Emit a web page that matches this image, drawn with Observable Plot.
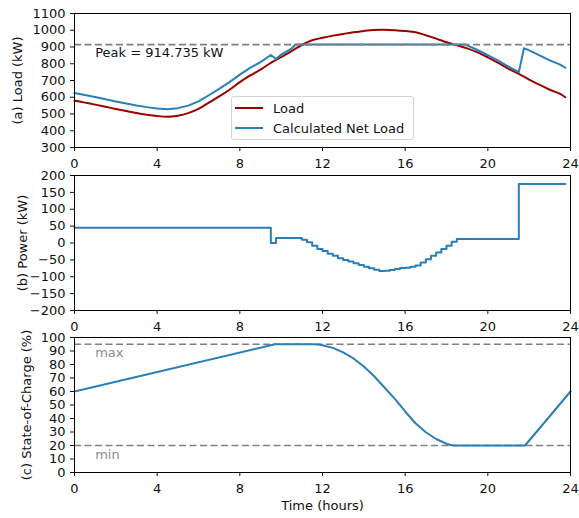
<!DOCTYPE html>
<html><head><meta charset="utf-8">
<script src="https://cdn.jsdelivr.net/npm/d3@7"></script>
<script src="https://cdn.jsdelivr.net/npm/@observablehq/plot@0.6"></script>
<style>
body{margin:0;background:#fff;font-family:"DejaVu Sans",sans-serif;}
#chart{position:relative;width:579px;height:518px;}
#chart svg{display:block;}
.legend{position:absolute;left:231px;top:96px;width:183px;height:44px;box-sizing:border-box;border:1px solid #d3d3d3;border-radius:3px;background:rgba(255,255,255,0.85);padding-top:1px;font-size:13px;color:#111;}
.legend .row{display:flex;align-items:center;height:20px;}
.legend .sw{width:28px;height:0;border-top:2px solid;margin-left:3px;margin-right:10px;}
</style></head><body><div id="chart"></div>
<script>
// ---- data ----
const xTicks = [0, 4, 8, 12, 16, 20, 24];
const seriesNames = ["Load", "Calculated Net Load"];
const seriesColors = ["#990000", "#2a7fb8"];

const loadHours = [0,0.5,1,1.5,2,2.5,3,3.5,4,4.5,5,5.5,6,6.5,7,7.5,8,8.5,9,9.5,10,10.5,11,11.5,12,12.5,13,13.5,14,14.5,15,15.5,16,16.5,17,17.5,18,18.5,19,19.5,20,20.5,21,21.5,22,22.5,23,23.5,23.75];
const loadKW = [580,568,556,543,530,518,506,496,488,484,490,505,530,568,605,645,690,730,765,805,840,875,912,940,955,968,978,988,996,1002,1003,1000,995,988,970,950,928,910,892,868,838,805,770,740,705,675,645,620,600];

const netHours = [0,0.5,1,1.5,2,2.5,3,3.5,4,4.5,5,5.5,6,6.5,7,7.5,8,8.5,9,9.5,9.75,10,10.5,10.7,18.9,19,19.5,20,20.5,21,21.5,21.75,22,22.5,23,23.5,23.75];
const netKW = [625,613,601,588,575,563,551,541,533,529,535,550,575,612,650,690,735,775,810,852,828,855,890,914.7,914.7,910,882,851,818,783,750,893,880,850,820,795,776];

const powerHours = [0,9.5,9.75,11,11.25,11.5,11.75,12,12.25,12.5,12.75,13,13.25,13.5,13.75,14,14.25,14.5,14.75,15,15.25,15.5,15.75,16,16.25,16.5,16.75,17,17.25,17.5,17.75,18,18.25,18.5,21.5,23.75];
const powerKW = [45,0,15,10,2,-8,-18,-24,-32,-38,-45,-50,-55,-60,-65,-70,-75,-79,-83,-82,-80,-77,-74,-73,-70,-67,-58,-48,-38,-28,-18,-8,4,12,175,175];

const socHours = [0,9.7,11.55,11.8,12,12.5,13,13.5,14,14.5,15,15.5,16,16.5,17,17.5,18,18.2,18.4,21.8,24];
const socPct = [60,95,95,94.8,94.2,92.3,89,84.5,78.5,71.3,63,54.5,45.2,36.5,29.8,24.8,21.3,20.4,20,20,60];

const peakKW = 914.735;
const peakLabel = "Peak = 914.735 kW";
const socMax = 95, socMin = 20;
const limitLabels = ["max", "min"];
const annotHour = 1;

const yTicksA = [300,400,500,600,700,800,900,1000,1100];
const yTicksB = [-200,-150,-100,-50,0,50,100,150,200];
const yTicksC = [0,10,20,30,40,50,60,70,80,90,100];
const yLabels = ["(a) Load (kW)", "(b) Power (kW)", "(c) State-of-Charge (%)"];
const xLabel = "Time (hours)";

// ---- tables ----
const loadData = loadHours.map((h, i) => ({h, v: loadKW[i]}));
const netData = netHours.map((h, i) => ({h, v: netKW[i]}));
const powerData = powerHours.map((h, i) => ({h, v: powerKW[i]}));
const socData = socHours.map((h, i) => ({h, v: socPct[i]}));

const style = {fontFamily: "'DejaVu Sans', sans-serif", fontSize: "13px", color: "#111", background: "transparent", overflow: "visible"};
const dash = {stroke: "#7f7f7f", strokeDasharray: "7,3.5", strokeWidth: 1.7};
const fmt = d3.format("d");

function panel({height, marginTop, marginBottom, yDomain, yTicks, yLabel, labelDx, marks}) {
  return Plot.plot({
    width: 579, height, marginLeft: 74, marginRight: 9, marginTop, marginBottom,
    style,
    x: {domain: [0, 24]},
    y: {domain: yDomain},
    marks: [
      ...marks,
      Plot.frame({stroke: "#000", strokeWidth: 1}),
      Plot.axisX({ticks: xTicks, tickSize: 4, tickPadding: 7, label: null, tickFormat: fmt}),
      Plot.axisY({ticks: yTicks, tickSize: 4, tickPadding: 5, label: null, tickFormat: fmt}),
      Plot.text([yLabel], {frameAnchor: "left", dx: labelDx, rotate: -90, textAnchor: "middle", lineAnchor: "middle", text: d => d, fill: "#111"})
    ]
  });
}

const chart = document.getElementById("chart");

chart.append(panel({
  height: 168, marginTop: 13, marginBottom: 21, yDomain: [300, 1100], yTicks: yTicksA,
  yLabel: yLabels[0], labelDx: -57,
  marks: [
    Plot.line(loadData, {x: "h", y: "v", stroke: seriesColors[0], strokeWidth: 2, curve: "catmull-rom"}),
    Plot.line(netData, {x: "h", y: "v", stroke: seriesColors[1], strokeWidth: 2}),
    Plot.ruleY([peakKW], dash),
    Plot.text([peakLabel], {x: () => annotHour, y: () => peakKW, dy: 8, textAnchor: "start", lineAnchor: "middle", text: d => d, fill: "#111"})
  ]
}));

chart.append(panel({
  height: 162, marginTop: 7, marginBottom: 20, yDomain: [-200, 200], yTicks: yTicksB,
  yLabel: yLabels[1], labelDx: -52,
  marks: [
    Plot.line(powerData, {x: "h", y: "v", stroke: seriesColors[1], strokeWidth: 2, curve: "step-after"})
  ]
}));

chart.append(panel({
  height: 188, marginTop: 7, marginBottom: 46, yDomain: [0, 100], yTicks: yTicksC,
  yLabel: yLabels[2], labelDx: -48,
  marks: [
    Plot.ruleY([socMax, socMin], dash),
    Plot.line(socData, {x: "h", y: "v", stroke: seriesColors[1], strokeWidth: 2}),
    Plot.text([socMax, socMin], {x: () => annotHour, y: d => d, dy: 9, textAnchor: "start", lineAnchor: "middle", text: (d, i) => limitLabels[i], fill: "#8a8a8a"}),
    Plot.text([xLabel], {frameAnchor: "bottom", dy: 33, textAnchor: "middle", lineAnchor: "middle", text: d => d, fill: "#111"})
  ]
}));

// legend (inside panel a)
const legend = document.createElement("div");
legend.className = "legend";
seriesNames.forEach((name, i) => {
  const row = document.createElement("div");
  row.className = "row";
  const sw = document.createElement("span");
  sw.className = "sw";
  sw.style.borderTopColor = seriesColors[i];
  const t = document.createElement("span");
  t.textContent = name;
  row.append(sw, t);
  legend.append(row);
});
chart.append(legend);
</script>
</body></html>
